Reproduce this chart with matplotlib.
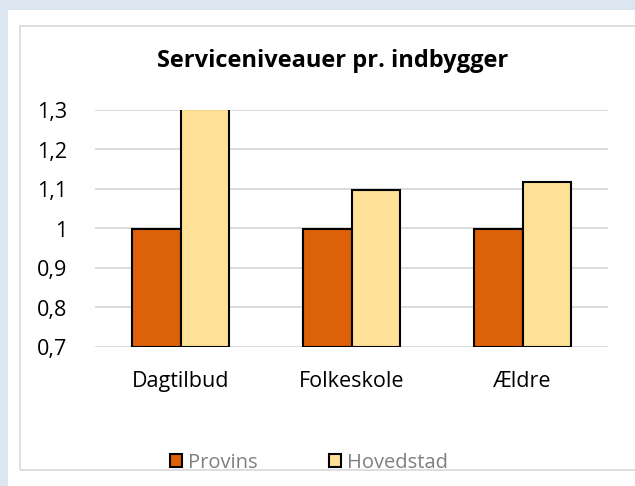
import matplotlib
matplotlib.use("Agg")
import matplotlib.pyplot as plt
from matplotlib.patches import Rectangle
import numpy as np

categories = ["Dagtilbud", "Folkeskole", "Ældre"]
provins = [1.0, 1.0, 1.0]
hovedstad = [1.302, 1.097, 1.118]
series_names = ["Provins", "Hovedstad"]
yticks = [0.7, 0.8, 0.9, 1.0, 1.1, 1.2, 1.3]
ytick_labels = ["0,7", "0,8", "0,9", "1", "1,1", "1,2", "1,3"]
title = "Serviceniveauer pr. indbygger"

plt.rcParams['font.family'] = ['Open Sans', 'DejaVu Sans']

W, H = 635, 486
fig = plt.figure(figsize=(W / 100, H / 100), dpi=100)
fig.patch.set_facecolor("#dce6f0")

# white panel
fig.add_artist(Rectangle((8 / W, 0), 1, 1 - 10 / H, transform=fig.transFigure,
                         facecolor="white", edgecolor="none", zorder=0))
# inner chart border
fig.add_artist(Rectangle((20 / W, 16 / H), 1, 1 - 26 / H - 16 / H, transform=fig.transFigure,
                         facecolor="none", edgecolor="#d9d9d9", lw=1.2, zorder=1))

left, right = 95, 608
bottom, top = 347, 110
ax = fig.add_axes([left / W, 1 - bottom / H, (right - left) / W, (bottom - top) / H])
ax.set_facecolor("none")

x = np.arange(len(categories))
bw = 0.285
c1, c2 = "#dc6108", "#fee096"
ax.bar(x - bw / 2, np.array(provins) - 0.7, bw, bottom=0.7, color=c1, edgecolor="black", lw=1.5,
       label=series_names[0], zorder=3)
ax.bar(x + bw / 2, np.array(hovedstad) - 0.7, bw, bottom=0.7, color=c2, edgecolor="black", lw=1.5,
       label=series_names[1], zorder=3)

ax.set_xlim(-0.5, 2.5)
ax.set_ylim(0.7, 1.3)
ax.set_yticks(yticks)
ax.set_yticklabels(ytick_labels)
ax.set_xticks(x)
ax.set_xticklabels(categories)
ax.grid(axis="y", color="#d9d9d9", lw=1.3, zorder=0)
for s in ax.spines.values():
    s.set_visible(False)
ax.tick_params(axis="both", length=0, labelsize=15.5, colors="black")
ax.tick_params(axis="y", pad=20)
ax.tick_params(axis="x", pad=17)

fig.text(333 / W, 1 - 61 / H, title, ha="center", va="center", fontsize=17, fontweight="bold")

leg = fig.legend(loc="center", bbox_to_anchor=(309 / W, 1 - 463 / H), ncol=2, frameon=False,
                 fontsize=14.5, handlelength=0.62, handleheight=0.62, handletextpad=0.3, columnspacing=3.5)
for t in leg.get_texts():
    t.set_color("#7f7f7f")

fig.savefig("out.png", dpi=100, facecolor=fig.get_facecolor())
